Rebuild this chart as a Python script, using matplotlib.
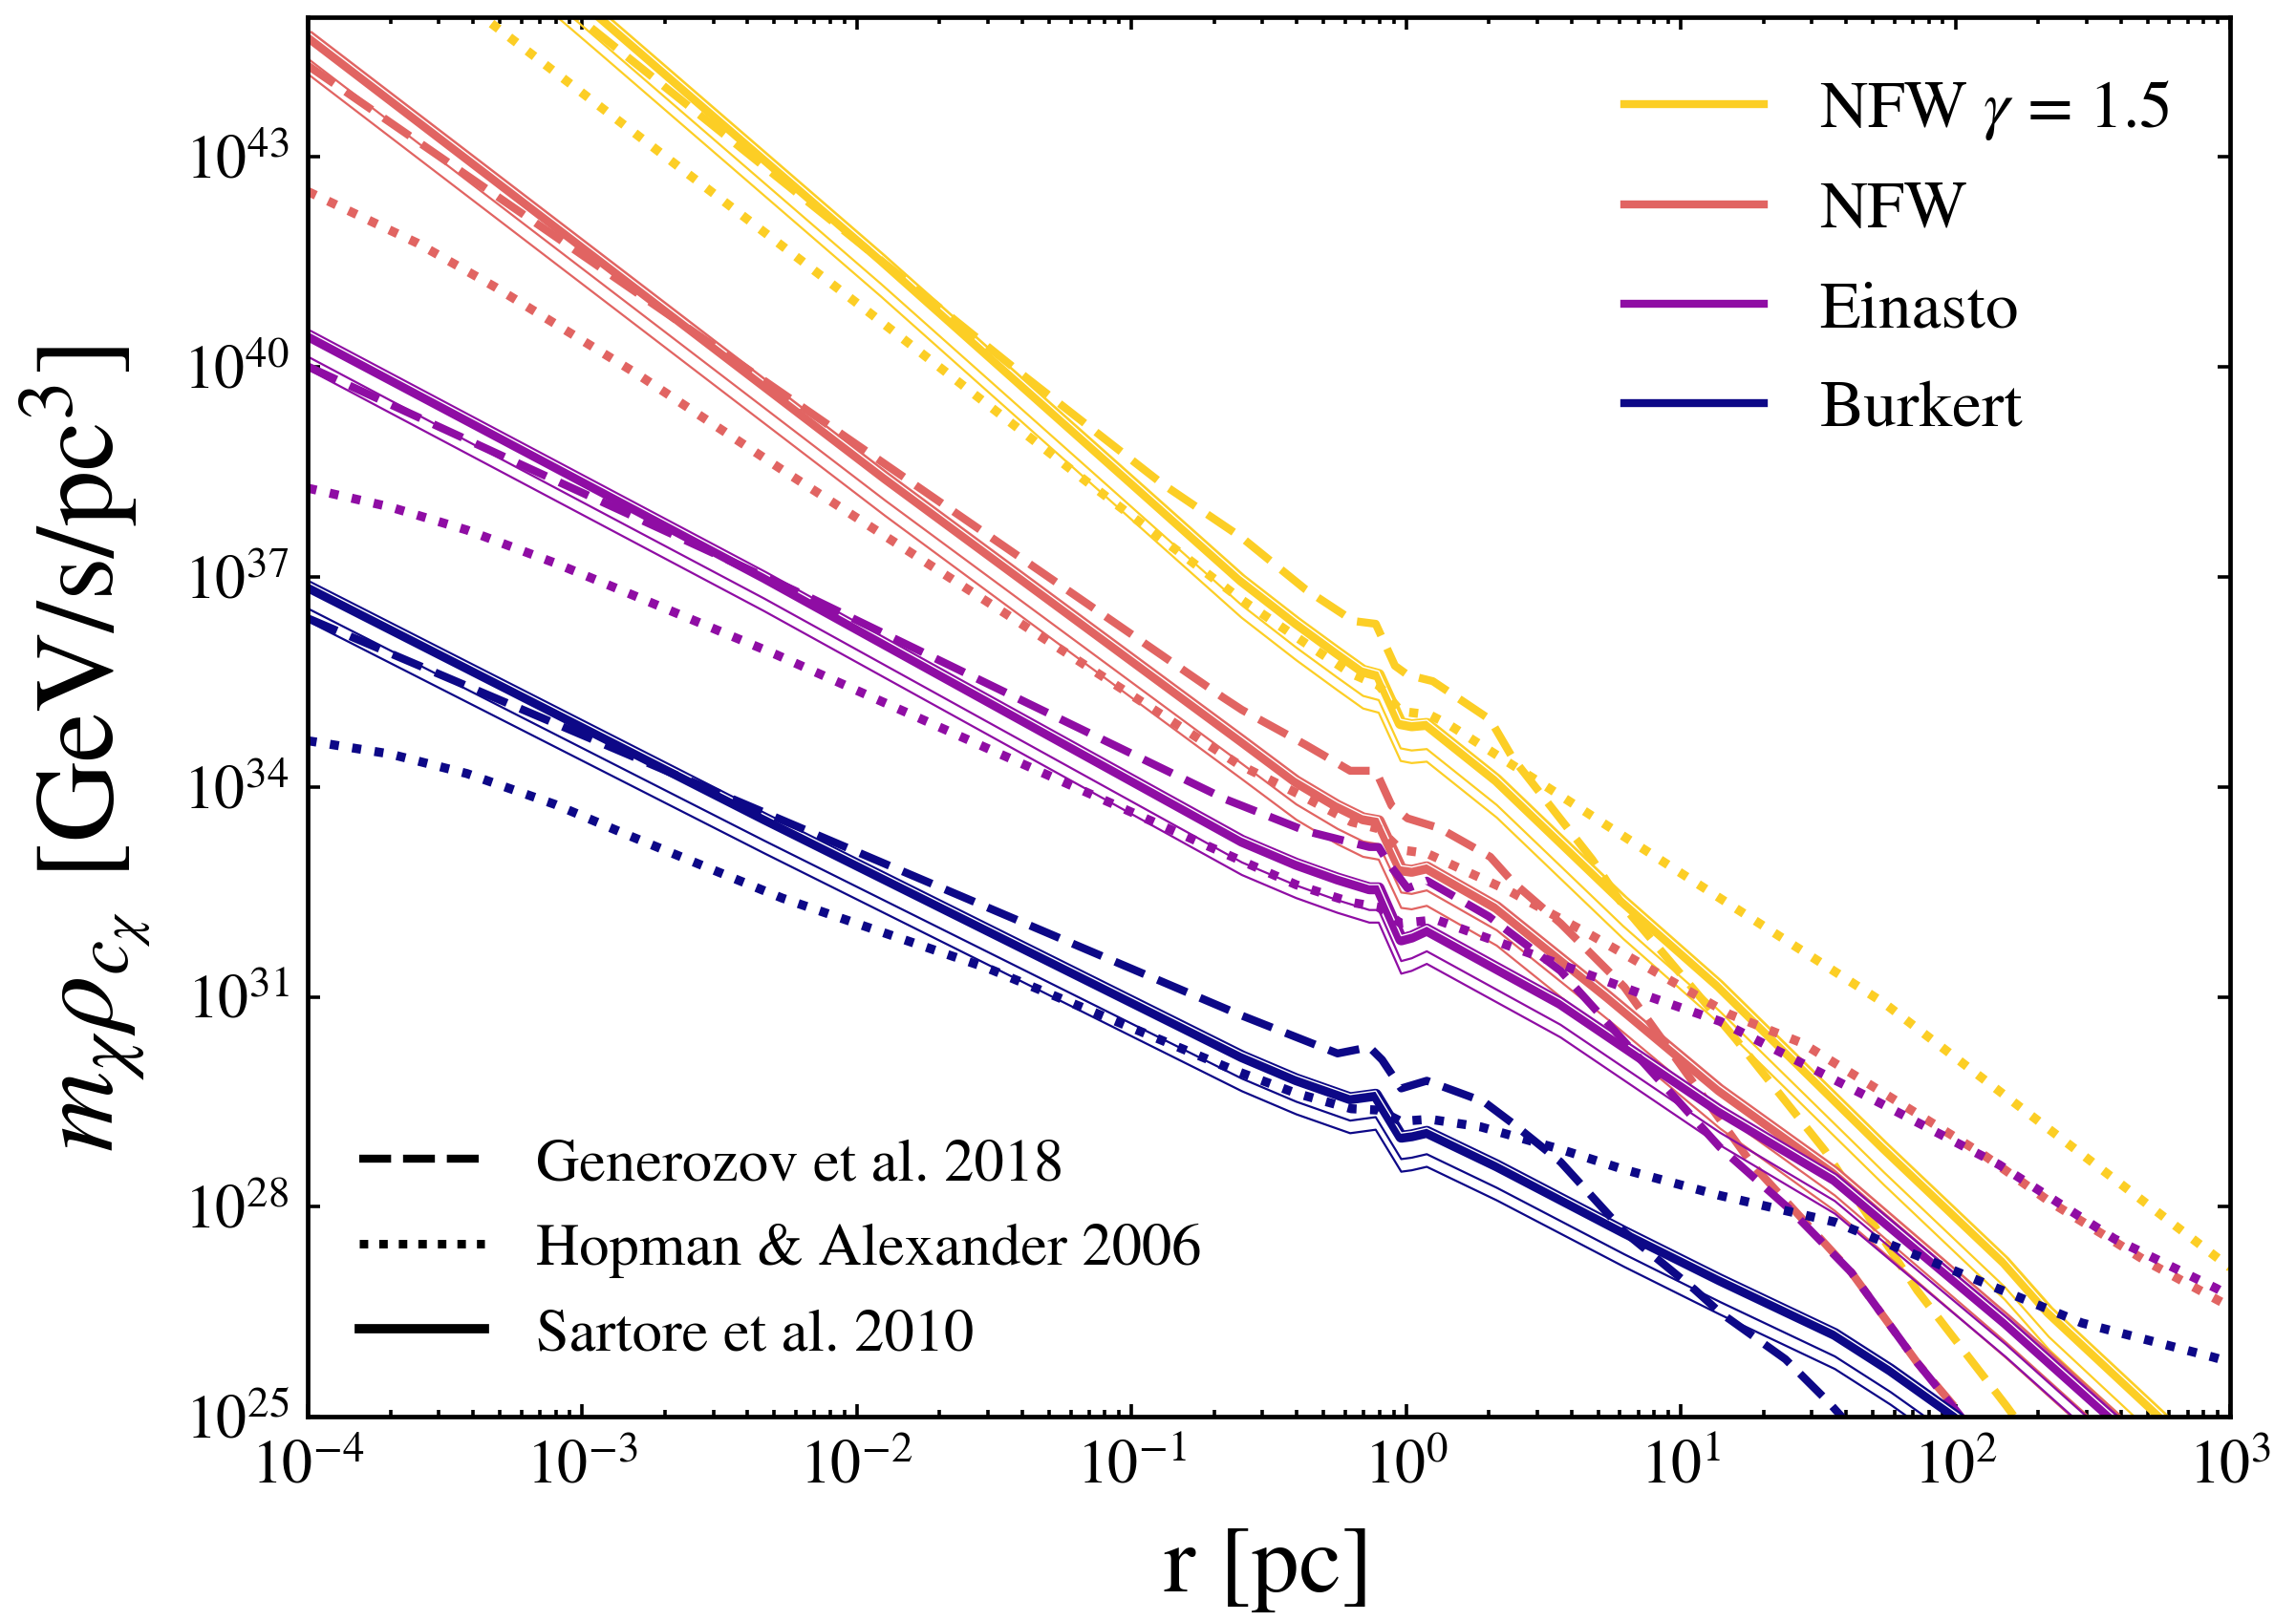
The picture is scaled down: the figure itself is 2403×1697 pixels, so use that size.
import numpy as np
import matplotlib
matplotlib.use('Agg')
import matplotlib.pyplot as plt
from matplotlib.lines import Line2D
from matplotlib import transforms

plt.rcParams['font.family'] = ['STIXGeneral', 'DejaVu Sans']
plt.rcParams['mathtext.fontset'] = 'stix'

# ---------------- data (log10 r [pc], log10 value) ----------------
# NFW gamma = 1.5
nfw15_s_logr = [-4.0, -2.93, -1.91, -1.0, -0.6, -0.4, -0.25, -0.157, -0.10, -0.02, 0.02, 0.075, 0.33, 0.79, 1.14, 1.74, 2.18, 2.34, 2.75, 3.0]
nfw15_s_logy = [48.6, 45.0, 41.54, 38.36, 36.96, 36.35, 35.92, 35.66, 35.60, 34.91, 34.88, 34.90, 34.10, 32.37, 31.16, 28.85, 27.21, 26.5, 25.0, 24.0]
nfw15_s_thin1 = [48.24, 44.64, 41.18, 38.00, 36.60, 35.99, 35.56, 35.30, 35.24, 34.55, 34.52, 34.54, 33.74, 32.01, 30.80, 28.49, 26.85, 26.14, 24.64, 23.64]
nfw15_s_thin2 = [48.06, 44.46, 41.00, 37.82, 36.42, 35.81, 35.38, 35.12, 35.06, 34.37, 34.34, 34.36, 33.56, 31.83, 30.62, 28.31, 26.67, 25.96, 24.46, 23.46]
nfw15_g_logr = [-4.0, -3.0, -2.0, -1.4, -0.888, -0.598, -0.366, -0.192, -0.111, -0.041, 0.005, 0.097, 0.306, 0.388, 0.678, 0.794, 1.201, 1.525, 1.861, 2.184, 2.4]
nfw15_g_logy = [48.1, 44.95, 41.8, 39.9, 38.33, 37.56, 36.82, 36.37, 36.33, 35.73, 35.60, 35.51, 34.96, 34.41, 32.96, 32.28, 30.39, 28.80, 26.80, 25.16, 24.0]
nfw15_h_logr = [-4.0, -3.334, -1.949, -1.166, -0.598, -0.366, -0.2, -0.1, -0.02, 0.085, 0.155, 0.5, 1.142, 1.74, 2.34, 2.94, 3.0]
nfw15_h_logy = [46.6, 44.92, 40.76, 38.37, 36.67, 36.05, 35.62, 35.45, 35.08, 35.03, 34.89, 34.03, 32.41, 30.91, 29.11, 27.31, 27.13]

# NFW
nfw_s_logr = [-4.0, -1.896, -0.598, -0.4, -0.25, -0.157, -0.10, -0.018, 0.02, 0.075, 0.33, 0.736, 1.142, 1.561, 2.184, 2.578, 3.0]
nfw_s_logy = [44.74, 38.42, 34.66, 34.08, 33.73, 33.55, 33.51, 32.82, 32.80, 32.85, 32.28, 31.0, 29.67, 28.49, 26.39, 25.0, 23.4]
nfw_s_thin1 = [44.41, 38.09, 34.33, 33.75, 33.40, 33.22, 33.18, 32.49, 32.47, 32.52, 31.95, 30.67, 29.34, 28.16, 26.06, 24.67, 23.07]
nfw_s_thin2 = [44.19, 37.87, 34.11, 33.53, 33.18, 33.00, 32.96, 32.27, 32.25, 32.30, 31.73, 30.45, 29.12, 27.94, 25.84, 24.45, 22.85]
nfw_g_logr = [-4.0, -0.668, -0.598, -0.366, -0.204, -0.111, -0.053, 0.005, 0.121, 0.306, 0.388, 0.562, 0.794, 1.261, 1.621, 1.861, 2.027, 2.2]
nfw_g_logy = [44.31, 35.28, 35.10, 34.60, 34.23, 34.23, 33.73, 33.55, 33.41, 33.0, 32.64, 32.05, 31.14, 28.60, 27.06, 25.77, 25.0, 24.0]
nfw_h_logr = [-4.0, -3.8, -3.6, -3.316, -2.8, -2.272, -1.5, -0.61, -0.378, -0.2, -0.1, -0.02, 0.075, 0.376, 0.678, 1.177, 1.441, 1.740, 2.099, 2.340, 2.699, 2.962, 3.0]
nfw_h_logy = [42.51, 42.14, 41.77, 41.14, 39.9, 38.53, 36.58, 34.32, 33.87, 33.5, 33.4, 33.1, 33.05, 32.51, 31.87, 30.75, 30.34, 29.62, 28.75, 28.08, 27.21, 26.65, 26.57]

# Einasto
ein_s_logr = [-4.0, -2.337, -0.598, -0.4, -0.25, -0.134, -0.10, -0.018, 0.02, 0.075, 0.562, 1.142, 1.561, 2.184, 2.566, 3.0]
ein_s_logy = [40.46, 37.0, 33.23, 32.9, 32.69, 32.55, 32.55, 31.82, 31.86, 31.96, 30.91, 29.37, 28.39, 26.34, 25.0, 23.5]
ein_s_thin1 = [40.15, 36.69, 32.92, 32.59, 32.38, 32.24, 32.24, 31.51, 31.55, 31.65, 30.60, 29.06, 28.08, 26.03, 24.69, 23.19]
ein_s_thin2 = [39.97, 36.51, 32.74, 32.41, 32.20, 32.06, 32.06, 31.33, 31.37, 31.47, 30.42, 28.88, 27.90, 25.85, 24.51, 23.01]
ein_g_logr = [-4.0, -2.163, -0.656, -0.598, -0.366, -0.134, -0.10, -0.065, 0.005, 0.075, 0.3, 0.562, 1.142, 1.4, 1.621, 1.861, 2.02, 2.2]
ein_g_logy = [40.01, 36.69, 33.82, 33.73, 33.37, 33.14, 33.14, 32.91, 32.55, 32.66, 32.15, 31.37, 28.85, 27.95, 27.06, 25.77, 25.0, 24.0]
ein_h_logr = [-4.0, -3.7, -3.42, -3.1, -2.84, -2.3, -1.525, -0.61, -0.4, -0.2, -0.1, -0.02, 0.11, 0.5, 0.886, 1.142, 1.716, 2.159, 2.579, 2.951, 3.0]
ein_h_logy = [38.27, 38.0, 37.67, 37.2, 36.78, 35.90, 34.55, 32.96, 32.6, 32.35, 32.28, 32.05, 32.10, 31.55, 31.0, 30.65, 29.5, 28.6, 27.54, 26.83, 26.72]

# Burkert
bur_s_logr = [-4.0, -2.337, -0.598, -0.4, -0.204, -0.111, -0.018, 0.02, 0.075, 0.33, 0.794, 1.142, 1.561, 1.764, 2.004, 2.2]
bur_s_logy = [36.87, 33.55, 30.15, 29.82, 29.55, 29.60, 29.0, 29.02, 29.07, 28.59, 27.64, 26.96, 26.18, 25.67, 25.0, 24.4]
bur_s_thin1 = [36.55, 33.23, 29.83, 29.50, 29.23, 29.28, 28.68, 28.70, 28.75, 28.27, 27.32, 26.64, 25.86, 25.35, 24.68, 24.08]
bur_s_thin2 = [36.37, 33.05, 29.65, 29.32, 29.05, 29.10, 28.50, 28.52, 28.57, 28.09, 27.14, 26.46, 25.68, 25.17, 24.50, 23.90]
bur_g_logr = [-4.0, -0.598, -0.25, -0.134, -0.088, -0.018, 0.075, 0.283, 0.388, 0.562, 0.794, 1.049, 1.142, 1.381, 1.537, 1.7]
bur_g_logy = [36.41, 30.73, 30.19, 30.28, 30.1, 29.69, 29.80, 29.50, 29.19, 28.64, 27.64, 26.82, 26.49, 25.82, 25.21, 24.5]
bur_h_logr = [-4.0, -3.7, -3.42, -3.1, -2.84, -2.272, -1.525, -0.633, -0.4, -0.2, -0.1, -0.02, 0.086, 0.272, 0.562, 0.794, 1.142, 1.561, 1.98, 2.459, 2.938, 3.0]
bur_h_logy = [34.66, 34.47, 34.19, 33.75, 33.32, 32.41, 31.41, 29.96, 29.62, 29.4, 29.38, 29.22, 29.25, 29.14, 28.82, 28.53, 28.16, 27.78, 27.11, 26.34, 25.85, 25.78]

model_labels = [r'NFW $\gamma$ = 1.5', 'NFW', 'Einasto', 'Burkert']
model_colors = ['#FCCE25', '#E16462', '#8F0DA4', '#0D0887']
ref_labels = ['Generozov et al. 2018', 'Hopman & Alexander 2006', 'Sartore et al. 2010']

x_ticks_exp = [-4, -3, -2, -1, 0, 1, 2, 3]
y_ticks_exp = [25, 28, 31, 34, 37, 40, 43]

models = [
    (nfw15_s_logr, nfw15_s_logy, nfw15_s_thin1, nfw15_s_thin2, nfw15_g_logr, nfw15_g_logy, nfw15_h_logr, nfw15_h_logy),
    (nfw_s_logr, nfw_s_logy, nfw_s_thin1, nfw_s_thin2, nfw_g_logr, nfw_g_logy, nfw_h_logr, nfw_h_logy),
    (ein_s_logr, ein_s_logy, ein_s_thin1, ein_s_thin2, ein_g_logr, ein_g_logy, ein_h_logr, ein_h_logy),
    (bur_s_logr, bur_s_logy, bur_s_thin1, bur_s_thin2, bur_g_logr, bur_g_logy, bur_h_logr, bur_h_logy),
]

# ---------------- figure ----------------
fig = plt.figure(figsize=(12.015, 8.485), dpi=200)
ax = fig.add_axes([0.134, 0.1261, 0.8373, 0.8633])
ax.set_xscale('log')
ax.set_yscale('log')

def p(v):
    return np.power(10.0, np.asarray(v, dtype=float))

hair = transforms.offset_copy(ax.transData, fig=fig, x=0.0, y=1.4, units='points')

dash_style = (0, (4.0, 1.8))
dot_style = (0, (1.0, 1.5))

for (sr, sy, t1, t2, gr, gy, hr, hy), col in zip(models, model_colors):
    ax.plot(p(sr), p(t2), color=col, lw=0.8, solid_capstyle='butt')
    ax.plot(p(sr), p(t1), color=col, lw=0.8, solid_capstyle='butt')
    ax.plot(p(sr), p(sy), color=col, lw=4.5, solid_capstyle='butt', solid_joinstyle='round')
    ax.plot(p(sr), p(sy), color='white', lw=0.5, transform=hair)
    ax.plot(p(gr), p(gy), color=col, lw=3.0, linestyle=dash_style)
    ax.plot(p(hr), p(hy), color=col, lw=3.4, linestyle=dot_style)

ax.set_xlim(1e-4, 1e3)
ax.set_ylim(1e25, 1e45)

ax.xaxis.set_major_locator(matplotlib.ticker.FixedLocator(p(x_ticks_exp)))
ax.xaxis.set_major_formatter(matplotlib.ticker.FixedFormatter([r'$10^{%d}$' % e for e in x_ticks_exp]))
ax.xaxis.set_minor_locator(matplotlib.ticker.LogLocator(base=10, subs=np.arange(2, 10), numticks=30))
ax.xaxis.set_minor_formatter(matplotlib.ticker.NullFormatter())
ax.yaxis.set_major_locator(matplotlib.ticker.FixedLocator(p(y_ticks_exp)))
ax.yaxis.set_major_formatter(matplotlib.ticker.FixedFormatter([r'$10^{%d}$' % e for e in y_ticks_exp]))
ax.yaxis.set_minor_locator(matplotlib.ticker.NullLocator())

ax.tick_params(which='both', direction='in', top=True, right=True, labelsize=23, width=1.3)
ax.tick_params(which='major', length=4.8)
ax.tick_params(axis='x', which='major', pad=9)
ax.tick_params(axis='y', which='major', pad=7)
ax.tick_params(which='minor', length=2.6)
for s in ax.spines.values():
    s.set_linewidth(1.7)

ax.set_xlabel('r [pc]', fontsize=36, labelpad=11)
ax.set_ylabel(r'$m_{\chi}\rho_{c_{\chi}}$ [GeV/s/pc$^{3}$]', fontsize=42)
ax.yaxis.set_label_coords(-0.080, 0.477)

h1 = [Line2D([], [], color=c, lw=3.0) for c in model_colors]
leg1 = ax.legend(h1, model_labels, loc='upper left', bbox_to_anchor=(0.685, 0.956),
                 frameon=False, fontsize=25, handlelength=2.1, handletextpad=0.84,
                 labelspacing=0.58, borderpad=0, borderaxespad=0)
ax.add_artist(leg1)

h2 = [Line2D([], [], color='k', lw=3.0, linestyle=(0, (4.0, 1.5))),
      Line2D([], [], color='k', lw=3.2, linestyle=(0, (1.0, 1.3))),
      Line2D([], [], color='k', lw=3.5)]
leg2 = ax.legend(h2, ref_labels, loc='lower left', bbox_to_anchor=(0.0267, 0.038),
                 frameon=False, fontsize=22.5, handlelength=2.1, handletextpad=0.86,
                 labelspacing=0.5, borderpad=0, borderaxespad=0)

fig.savefig('out.png', dpi=200)
